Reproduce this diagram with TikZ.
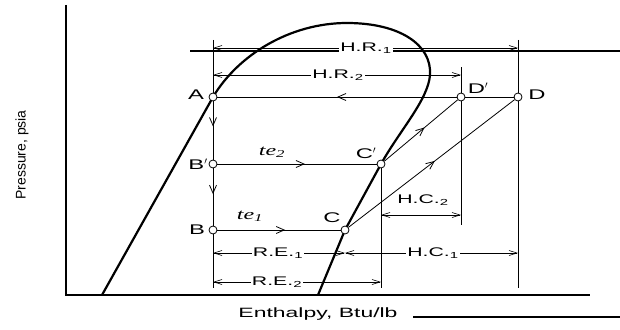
\documentclass[tikz,border=0pt]{standalone}
\usepackage{fontspec}
\setmainfont{Liberation Sans}
\newfontfamily\wide[FakeStretch=1.7]{Liberation Sans}
\newfontfamily\wideit[FakeStretch=1.6]{Liberation Serif Italic}
\usetikzlibrary{arrows.meta,decorations.markings}
\tikzset{
  pt/.style={circle,draw,fill=white,line width=0.8pt,inner sep=0pt,minimum size=8pt},
  lbl/.style={font=\wide\fontsize{14}{16}\selectfont,inner sep=1pt},
  dimlbl/.style={font=\wide\fontsize{12.5}{15}\selectfont,fill=white,inner sep=1pt},
  telbl/.style={font=\wideit\fontsize{15}{17}\selectfont,inner sep=1pt},
  thin line/.style={line width=0.8pt},
  dome/.style={line width=2.2pt},
  midarrow/.style={postaction={decorate},decoration={markings,
     mark=at position #1 with {\arrow{Straight Barb[length=8pt,width=7pt,line width=0.8pt]}}}},
  dim/.style={line width=0.6pt,{Straight Barb[length=8pt,width=5pt]}-{Straight Barb[length=8pt,width=5pt]}},
}
\begin{document}
\begin{tikzpicture}[x=1pt,y=-1pt]
\useasboundingbox (0,0) rectangle (620,329);
% axes
\coordinate (o) at (66,295);
\coordinate (ytop) at (66,5);
\coordinate (xend) at (590,295);
\draw[line width=1.4pt] (ytop) -- (o) -- (xend);
\coordinate (tl1) at (190,51); \coordinate (tl2) at (620,51);
\draw[line width=1.2pt] (tl1) -- (tl2);
\coordinate (bl1) at (413,317); \coordinate (bl2) at (620,317);
\draw[line width=1.2pt] (bl1) -- (bl2);
\node[font=\fontsize{14}{16}\selectfont,rotate=90] (ylab) at (22,155) {Pressure, psia};
\node[font=\wide\fontsize{13.5}{16}\selectfont] (xlab) at (318,314) {Enthalpy, Btu/lb};
% extension lines
\coordinate (va1) at (213,40); \coordinate (va2) at (213,288);
\coordinate (vd1) at (518,40); \coordinate (vd2) at (518,288);
\coordinate (vdp1) at (461,67); \coordinate (vdp2) at (461,225);
\coordinate (vcp2) at (381,288);
\draw[thin line] (va1) -- (va2);
\draw[thin line] (vd1) -- (vd2);
\draw[thin line] (vdp1) -- (vdp2);
% dome
\coordinate (l0) at (102,295);
\coordinate (r0) at (318,295);
\draw[dome] (l0) -- (213,97) .. controls (238,55) and (290,23) .. (347,23)
  .. controls (400,23) and (432,45) .. (430,75)
  .. controls (428,100) and (400,130) .. (381,164) -- (345,230) -- (r0);
% points
\node[pt] (A) at (213,97) {};
\node[pt] (Dp) at (461,97) {};
\node[pt] (D) at (518,97) {};
\node[pt] (Bp) at (213,164) {};
\node[pt] (Cp) at (381,164) {};
\node[pt] (B) at (213,230) {};
\node[pt] (C) at (345,230) {};
\draw[thin line] (Cp) -- (vcp2);
% process lines
\draw[thin line] (D) -- (Dp);
\draw[thin line,midarrow=0.5] (Dp) -- (A);
\draw[thin line,midarrow=0.43] (A) -- (Bp);
\draw[thin line,midarrow=0.45] (Bp) -- (B);
\draw[thin line,midarrow=0.55] (Bp) -- (Cp);
\draw[thin line,midarrow=0.55] (B) -- (C);
\draw[thin line,midarrow=0.55] (Cp) -- (Dp);
\draw[thin line,midarrow=0.52] (C) -- (D);
% point labels
\node[lbl] (lA) at (196,95) {A};
\node[lbl] (lDp) at (478,88) {D$'$};
\node[lbl] (lD) at (537,95) {D};
\node[lbl] (lBp) at (198,164) {B$'$};
\node[lbl] (lCp) at (366,153) {C$'$};
\node[lbl] (lB) at (197,230) {B};
\node[lbl] (lC) at (332,218) {C};
\node[telbl] (te2) at (272,152) {te\textsubscript{2}};
\node[telbl] (te1) at (250,216) {te\textsubscript{1}};
% dimension lines
\coordinate (hr1a) at (213,48); \coordinate (hr1b) at (518,48);
\draw[dim] (hr1a) -- (hr1b);
\node[dimlbl] (hr1) at (366,48) {H.R.\textsubscript{1}};
\coordinate (hr2a) at (213,75); \coordinate (hr2b) at (461,75);
\draw[dim] (hr2a) -- (hr2b);
\node[dimlbl] (hr2) at (338,75) {H.R.\textsubscript{2}};
\coordinate (hc2a) at (381,215); \coordinate (hc2b) at (461,215);
\draw[dim] (hc2a) -- (hc2b);
\node[dimlbl,fill=none] (hc2) at (423,200) {H.C.\textsubscript{2}};
\coordinate (re1a) at (213,253); \coordinate (re1b) at (345,253); \coordinate (hc1b) at (518,253);
\draw[dim] (re1a) -- (re1b);
\draw[dim] (re1b) -- (hc1b);
\node[dimlbl] (re1) at (278,253) {R.E.\textsubscript{1}};
\node[dimlbl] (hc1) at (433,253) {H.C.\textsubscript{1}};
\coordinate (re2a) at (213,282); \coordinate (re2b) at (381,282);
\draw[dim] (re2a) -- (re2b);
\node[dimlbl] (re2) at (277,282) {R.E.\textsubscript{2}};
\end{tikzpicture}
\end{document}
